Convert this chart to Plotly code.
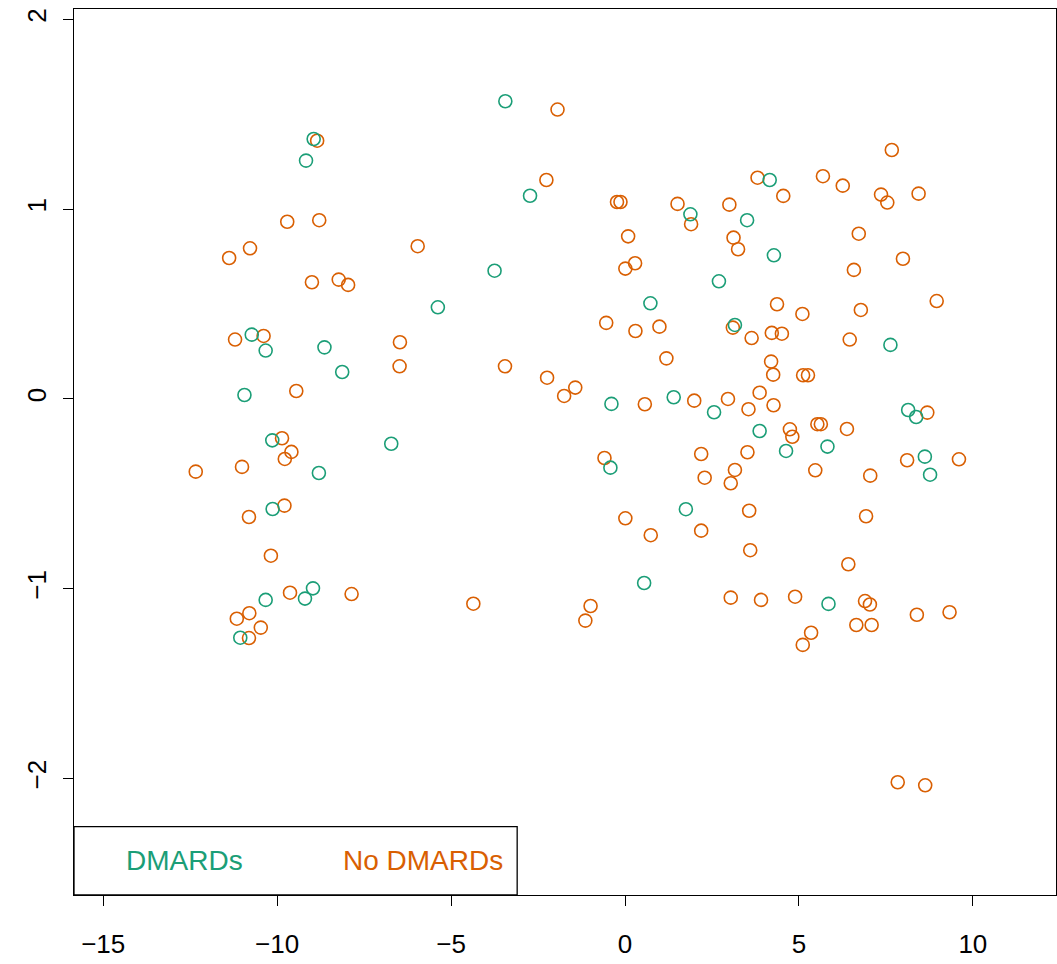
import plotly.graph_objects as go

# Two-dimensional embedding of patients, split by DMARD treatment
dmard_x = [-8.95, -9.17, -3.44, -2.73, -3.75, -5.38, 4.16, 1.88, 3.51, 4.28,
           2.70, 0.73, -10.73, -10.33, -8.64, -10.94, -10.14, -8.80, -10.13, -8.97,
           -9.20, -10.33, -11.06, -8.13, -6.72, 3.16, -0.39, 1.40, 2.56, 3.87,
           5.82, 4.63, -0.42, 1.75, 0.55, 5.85, 7.63, 8.14, 8.37, 8.62, 8.77]
dmard_y = [1.370, 1.256, 1.569, 1.071, 0.676, 0.483, 1.154, 0.973, 0.942, 0.757,
           0.620, 0.504, 0.339, 0.255, 0.272, 0.021, -0.218, -0.390, -0.580, -0.998,
           -1.052, -1.059, -1.258, 0.142, -0.236, 0.390, -0.026, 0.009, -0.070, -0.169,
           -0.251, -0.274, -0.362, -0.581, -0.970, -1.080, 0.285, -0.058, -0.095, -0.304,
           -0.399]

no_dmard_x = [-8.85, -9.71, -8.79, -10.78, -11.38, -9.00, -1.94, -2.26, -5.96, -8.23,
              -7.96, 3.81, 5.69, 4.55, -0.23, -0.13, 1.51, 1.90, 3.00, 0.09,
              3.12, 3.25, 0.29, 0.01, 4.37, 5.10, 7.67, 6.26, 7.36, 7.54,
              8.44, 6.72, 7.99, 6.58, 8.96, 6.78, -11.21, -10.39, -9.45, -9.86,
              -9.59, -9.78, -12.34, -11.01, -9.79, -10.81, -10.18, -9.63, -11.16, -10.80,
              -10.47, -10.81, -6.47, -6.48, -3.45, -2.24, -1.43, -1.75, -7.86, -4.36,
              -0.99, -1.14, -0.54, 0.30, 0.99, 3.10, 3.64, 4.22, 4.51, 1.19,
              4.20, 4.26, 5.12, 5.26, 0.57, 1.99, 2.96, 3.55, 3.87, 4.27,
              4.74, 4.81, 5.53, 5.63, -0.59, 2.19, 3.52, 3.16, 2.29, 3.04,
              5.47, 3.57, 0.01, 0.74, 2.19, 3.60, 3.04, 3.91, 4.89, 5.35,
              5.11, 6.46, 8.69, 6.38, 8.11, 9.60, 7.05, 6.93, 6.42, 6.90,
              7.04, 6.65, 7.09, 8.39, 9.33, 7.84, 8.63]
no_dmard_y = [1.361, 0.934, 0.942, 0.794, 0.743, 0.615, 1.525, 1.154, 0.805, 0.629,
              0.601, 1.166, 1.174, 1.070, 1.038, 1.038, 1.028, 0.921, 1.024, 0.857,
              0.850, 0.789, 0.715, 0.687, 0.499, 0.448, 1.312, 1.124, 1.077, 1.035,
              1.082, 0.871, 0.739, 0.680, 0.516, 0.469, 0.313, 0.332, 0.042, -0.207,
              -0.279, -0.316, -0.383, -0.358, -0.562, -0.622, -0.826, -1.021, -1.158, -1.129,
              -1.205, -1.260, 0.299, 0.172, 0.172, 0.112, 0.060, 0.016, -1.028, -1.079,
              -1.091, -1.168, 0.401, 0.358, 0.381, 0.376, 0.321, 0.348, 0.344, 0.214,
              0.197, 0.128, 0.125, 0.125, -0.028, -0.009, 0.000, -0.054, 0.033, -0.033,
              -0.160, -0.199, -0.133, -0.133, -0.311, -0.290, -0.281, -0.374, -0.415, -0.444,
              -0.376, -0.589, -0.629, -0.718, -0.694, -0.797, -1.047, -1.059, -1.042, -1.232,
              -1.296, 0.313, -0.072, -0.158, -0.323, -0.318, -0.404, -0.618, -0.871, -1.065,
              -1.083, -1.191, -1.191, -1.137, -1.124, -2.020, -2.036]

x_ticks = [-15, -10, -5, 0, 5, 10]
y_ticks = [-2, -1, 0, 1, 2]
group_names = ["DMARDs", "No DMARDs"]
group_colors = ["#1B9E77", "#D95F02"]

X_RANGE = [-15.84, 12.39]
Y_RANGE = [-2.614, 2.055]
FONT = "Liberation Sans, Arial, Helvetica, sans-serif"

fig = go.Figure()
for xs, ys, name, col in [(no_dmard_x, no_dmard_y, group_names[1], group_colors[1]),
                          (dmard_x, dmard_y, group_names[0], group_colors[0])]:
    fig.add_trace(go.Scatter(
        x=xs, y=ys, mode="markers", name=name, showlegend=False,
        marker=dict(symbol="circle-open", size=13, color=col,
                    line=dict(width=1.6, color=col)),
    ))

# Legend box in the lower-left corner, text only
legend_right = -3.10
legend_top = -2.254
fig.add_shape(type="rect", xref="x", yref="y",
              x0=X_RANGE[0], x1=legend_right, y0=Y_RANGE[0], y1=legend_top,
              line=dict(color="black", width=1.3), fillcolor="white", layer="above")
legend_y = (Y_RANGE[0] + legend_top) / 2
for label, col, xc in [(group_names[0], group_colors[0], -12.65),
                       (group_names[1], group_colors[1], -5.82)]:
    fig.add_annotation(x=xc, y=legend_y, xref="x", yref="y", text=label,
                       showarrow=False, font=dict(family=FONT, size=28, color=col))

axis_common = dict(showline=True, linecolor="black", linewidth=1.3, mirror=True,
                   showgrid=False, zeroline=False, ticks="outside", ticklen=10,
                   tickwidth=1.3, tickcolor="black",
                   tickfont=dict(family=FONT, size=26, color="black"))
fig.update_xaxes(range=X_RANGE, tickvals=x_ticks, ticklabelstandoff=16, **axis_common)
fig.update_yaxes(range=Y_RANGE, tickvals=y_ticks, tickangle=-90,
                 ticklabelstandoff=6, **axis_common)

fig.update_layout(
    width=1057, height=964,
    margin=dict(l=74, r=1, t=9, b=69),
    paper_bgcolor="white", plot_bgcolor="white",
    showlegend=False,
)

fig.write_html("out.html")
